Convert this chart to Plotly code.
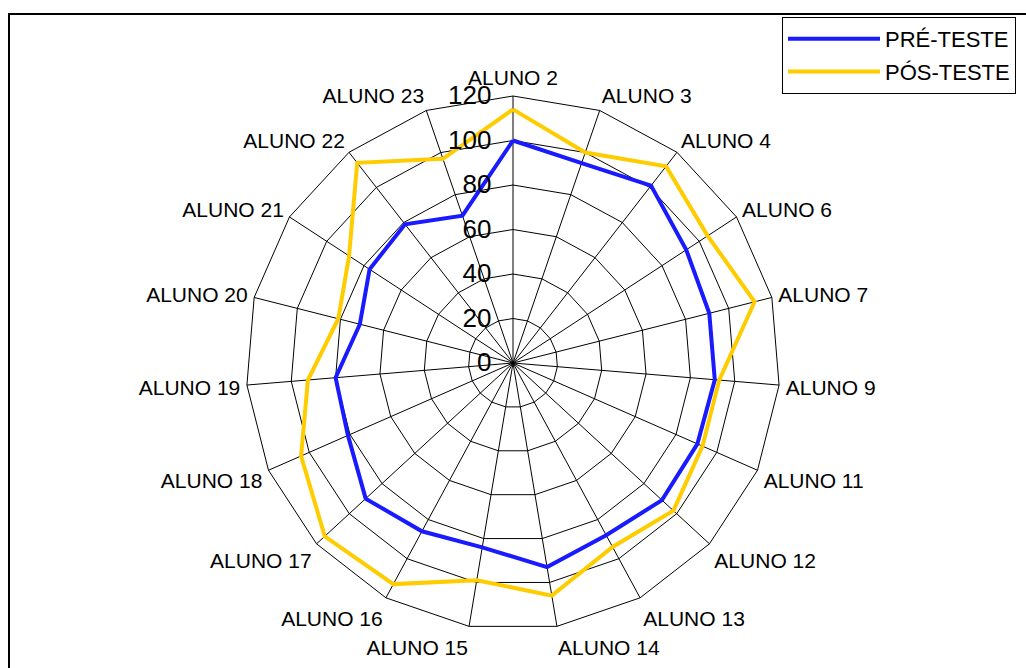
import plotly.graph_objects as go

categories = ["ALUNO 2", "ALUNO 3", "ALUNO 4", "ALUNO 6", "ALUNO 7", "ALUNO 9",
              "ALUNO 11", "ALUNO 12", "ALUNO 13", "ALUNO 14", "ALUNO 15", "ALUNO 16",
              "ALUNO 17", "ALUNO 18", "ALUNO 19", "ALUNO 20", "ALUNO 21", "ALUNO 22",
              "ALUNO 23"]
pre_teste = [100, 95, 101, 93, 91, 91, 90.5, 91, 88, 93, 84, 86, 90, 81, 80, 71, 77, 79, 70]
pos_teste = [114, 100, 112, 104.5, 112, 93, 93, 98, 94, 106, 99, 113, 115, 104, 92.5, 81, 88, 114, 97]
radial_ticks = [0, 20, 40, 60, 80, 100, 120]

W, H = 1026, 668
cx, cy, R = 513, 363, 267

fig = go.Figure()
fig.add_trace(go.Scatterpolar(
    r=pre_teste + pre_teste[:1], theta=categories + categories[:1],
    mode="lines", name="PRÉ-TESTE", legendgroup="a",
    line=dict(color="#1a1aff", width=4)))
fig.add_trace(go.Scatterpolar(
    r=pos_teste + pos_teste[:1], theta=categories + categories[:1],
    mode="lines", name="PÓS-TESTE", legendgroup="b",
    line=dict(color="#ffcc00", width=4)))

fig.update_layout(
    width=W, height=H,
    margin=dict(l=0, r=0, t=0, b=0),
    paper_bgcolor="white",
    font=dict(family="Liberation Sans, Arial, sans-serif", color="black"),
    showlegend=True,
    legend=dict(x=782 / W, y=1 - 17 / H, xanchor="left", yanchor="top",
                bordercolor="black", borderwidth=1, bgcolor="white",
                font=dict(size=22), itemwidth=92, tracegroupgap=1),
    polar=dict(
        domain=dict(x=[(cx - R) / W, (cx + R) / W],
                    y=[(H - cy - R) / H, (H - cy + R) / H]),
        gridshape="linear",
        bgcolor="white",
        angularaxis=dict(direction="clockwise", rotation=90, type="category",
                         categoryorder="array", categoryarray=categories,
                         gridcolor="black", gridwidth=1, linecolor="black",
                         linewidth=1, ticks="outside", ticklen=2,
                         tickcolor="rgba(0,0,0,0)", tickfont=dict(size=21)),
        radialaxis=dict(range=[0, 120], tickvals=radial_ticks, angle=90,
                        tickangle=90, side="counterclockwise",
                        gridcolor="black", gridwidth=1, showline=False,
                        ticks="outside", ticklen=12, tickcolor="rgba(0,0,0,0)",
                        tickfont=dict(size=26)),
    ),
    shapes=[dict(type="rect", xref="paper", yref="paper",
                 x0=9 / W, x1=1.02, y0=-0.02, y1=1 - 14 / H,
                 line=dict(color="black", width=2))],
)
fig.write_html("out.html")
